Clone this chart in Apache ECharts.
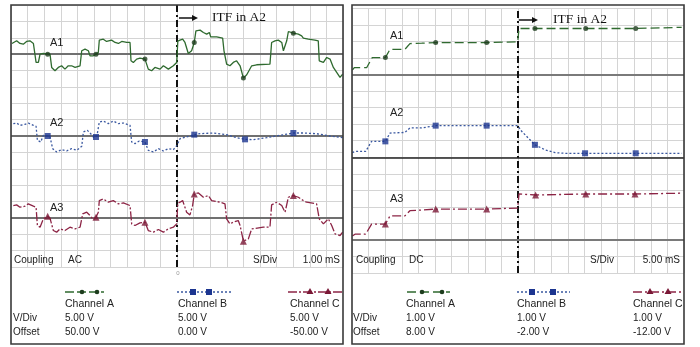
<!DOCTYPE html>
<html>
<head>
<meta charset="utf-8">
<script src="https://cdn.jsdelivr.net/npm/echarts@6/dist/echarts.min.js"></script>
<style>
  html, body { margin: 0; background: #fff; }
  #main { width: 700px; height: 347px; }
</style>
</head>
<body>
<div id="main"></div>
<script>
// Left scope: AC coupling, 1 ms/div, 5 V/div. Points are [time ms, volts from the channel's zero line]
const acA1 = [[0.06,3.25],[0.34,4.07],[0.54,3.25],[0.74,3.05],[0.94,3.86],[1.14,4.07],[1.35,3.25],[1.45,3.05],[1.51,-2.54],[1.65,-2.54],[1.75,0],[1.95,0.2],[2.21,0],[2.35,0],[2.45,-4.07],[2.65,-5.08],[2.85,-4.07],[3.05,-3.56],[3.25,-4.57],[3.45,-3.56],[3.65,-3.56],[3.86,-4.07],[4.16,-3.56],[4.26,1.02],[4.46,1.52],[4.66,1.02],[4.76,-0.51],[4.96,-0.51],[5.12,0],[5.26,0.51],[5.32,4.27],[5.56,4.57],[5.76,3.86],[6.06,4.27],[6.27,3.56],[6.47,3.25],[6.67,3.86],[6.97,3.56],[7.17,3.56],[7.23,-2.03],[7.37,-2.54],[7.57,-1.52],[7.77,-1.22],[8.07,-1.52],[8.27,-4.57],[8.47,-5.08],[8.67,-4.07],[8.98,-4.57],[9.18,-3.56],[9.48,-4.57],[9.78,-3.56],[9.98,-2.54],[10.05,4.0],[10.18,4.27],[10.34,4.57],[10.48,3.56],[10.68,0.2],[10.88,1.02],[11.04,3.56],[11.14,7.11],[11.39,7.32],[11.59,6.61],[11.79,6.1],[11.95,6.61],[12.03,5.28],[12.39,5.28],[12.75,4.88],[12.83,1.02],[12.99,-3.05],[13.19,-3.56],[13.39,-2.54],[13.59,-2.03],[13.8,-3.56],[14.0,-7.32],[14.2,-6.3],[14.5,-3.56],[14.8,-3.25],[15.6,-3.05],[15.7,3.56],[15.9,4.07],[16.1,4.27],[16.31,3.56],[16.41,1.02],[16.61,4.07],[16.71,6.91],[17.01,6.4],[17.31,6.1],[17.51,5.59],[17.61,4.88],[17.91,4.57],[18.31,4.27],[18.51,4.07],[18.57,-2.03],[18.82,-2.54],[19.02,-1.02],[19.22,-1.52],[19.42,-4.07],[19.62,-5.59],[19.82,-7.11],[19.98,-6.1]];
const acA1Marks = [[2.21,0],[5.12,0],[8.07,-1.52],[11.04,3.56],[14.0,-7.32],[17.01,6.4]];

const acA2 = [[0.14,3.76],[0.34,3.96],[0.54,3.25],[0.84,3.56],[1.04,3.96],[1.35,3.25],[1.51,2.95],[1.59,-1.32],[1.79,-1.83],[1.95,0.2],[2.21,0],[2.35,-0.3],[2.51,-3.86],[2.75,-4.88],[3.05,-4.17],[3.35,-4.57],[3.65,-3.86],[3.96,-4.37],[4.26,-3.15],[4.36,1.22],[4.6,1.73],[4.8,0.71],[4.96,-0.3],[5.12,-0.3],[5.2,0.71],[5.32,4.27],[5.56,4.57],[5.86,3.76],[6.16,4.57],[6.47,3.76],[6.77,3.96],[7.17,3.25],[7.27,-1.83],[7.47,-2.34],[7.73,-1.52],[8.07,-1.83],[8.27,-4.37],[8.57,-4.88],[8.88,-3.86],[9.18,-4.57],[9.48,-3.86],[9.78,-4.17],[10.0,-2.85],[10.18,-0.81],[10.58,-0.3],[11.04,0.41],[11.39,0.71],[12.19,0.91],[12.99,0.41],[13.59,-0.51],[14.1,-1.02],[14.6,-1.12],[15.4,-0.51],[16.2,0.2],[17.01,0.91],[17.61,0.91],[18.41,0.71],[19.22,0],[19.98,-0.51]];
const acA2Marks = [[2.21,0],[5.12,-0.3],[8.07,-1.83],[11.04,0.41],[14.1,-1.02],[17.01,0.91]];

const acA3 = [[0.14,3.76],[0.34,3.96],[0.54,3.25],[0.84,3.56],[1.04,4.27],[1.35,3.56],[1.51,3.25],[1.59,-2.34],[1.75,-2.85],[1.95,-0.3],[2.21,0.51],[2.35,-0.1],[2.55,-3.86],[2.75,-4.37],[2.95,-3.35],[3.25,-3.86],[3.55,-2.85],[3.86,-3.35],[4.16,-2.85],[4.32,1.22],[4.56,1.73],[4.76,0.71],[4.96,-0.51],[5.12,0.2],[5.26,1.73],[5.32,5.28],[5.56,5.79],[5.86,4.78],[6.16,5.28],[6.47,4.27],[6.77,4.57],[7.17,3.76],[7.27,-1.83],[7.47,-2.34],[7.77,-1.52],[8.07,-1.32],[8.27,-3.86],[8.57,-4.37],[8.88,-3.56],[9.18,-4.37],[9.48,-3.35],[9.78,-2.85],[9.98,-1.83],[10.05,4.5],[10.18,4.78],[10.34,5.28],[10.58,1.73],[10.78,0.91],[10.94,3.76],[11.04,7.32],[11.29,7.62],[11.59,6.3],[11.89,6.81],[12.09,5.28],[12.59,4.78],[12.89,4.27],[12.99,-0.3],[13.19,-1.83],[13.39,-1.32],[13.69,-0.81],[13.8,-2.34],[14.0,-7.11],[14.3,-6.4],[14.5,-3.35],[15.2,-2.85],[15.6,-2.85],[15.7,3.96],[16.0,4.78],[16.31,3.76],[16.51,1.73],[16.71,6.3],[17.01,6.81],[17.31,6.3],[17.61,5.28],[17.81,4.78],[18.41,4.27],[18.57,-0.3],[18.82,-1.83],[19.12,-0.3],[19.32,-2.34],[19.52,-4.88],[19.82,-5.39],[19.98,-4.37]];
const acA3Marks = [[2.21,0.51],[5.12,0.2],[8.07,-1.32],[11.04,7.32],[14.0,-7.11],[17.01,6.81]];

// Right scope: DC coupling, 5 ms/div, 1 V/div
const dcA1 = [[0.1,0.26],[0.7,0.41],[4.4,0.41],[6.1,1.02],[8.95,1.02],[10.05,1.02],[11.45,1.52],[15.95,1.52],[17.45,1.87],[21.0,1.89],[25.2,1.93],[40.55,1.93],[49.9,1.97],[50.3,2.78],[55.1,2.78],[70.4,2.78],[85.45,2.78],[99.3,2.85]];
const dcA1Marks = [[10.05,1.02],[25.2,1.93],[40.55,1.93],[55.1,2.78],[70.4,2.78],[85.45,2.78]];

const dcA2 = [[0.1,0.28],[0.9,0.35],[4.1,0.35],[5.9,0.96],[8.95,0.96],[10.05,0.96],[11.45,1.46],[15.95,1.5],[17.45,1.77],[21.0,1.77],[25.2,1.91],[40.55,1.91],[49.9,1.91],[51.1,1.57],[53.1,1.16],[55.1,0.75],[58.15,0.45],[61.15,0.28],[64.15,0.24],[70.2,0.24],[85.45,0.24],[99.3,0.24]];
const dcA2Marks = [[10.05,0.96],[25.2,1.91],[40.55,1.91],[55.1,0.75],[70.2,0.24],[85.45,0.24]];

const dcA3 = [[0.1,0.24],[0.9,0.35],[4.1,0.35],[5.9,0.96],[8.95,0.96],[10.05,0.96],[11.45,1.46],[15.95,1.46],[17.45,1.77],[21.0,1.81],[25.2,1.87],[40.55,1.87],[49.9,1.93],[50.3,2.78],[55.3,2.72],[70.4,2.78],[85.25,2.78],[99.3,2.83]];
const dcA3Marks = [[10.05,0.96],[25.2,1.87],[40.55,1.87],[55.3,2.72],[70.4,2.78],[85.25,2.78]];

const channelNames = ['Channel A', 'Channel B', 'Channel C'];
const acVDivText = ['5.00 V', '5.00 V', '5.00 V'];
const acOffsetText = ['50.00 V', '0.00 V', '-50.00 V'];
const dcVDivText = ['1.00 V', '1.00 V', '1.00 V'];
const dcOffsetText = ['8.00 V', '-2.00 V', '-12.00 V'];

const chart = echarts.init(document.getElementById('main'));

const lineColor = ['#2f6a2f', '#3a58a0', '#8c2445'];
const markColor = ['#1e3d1e', '#1c3590', '#7a1836'];
const markSymbol = ['circle', 'rect', 'triangle'];
const markSize = [5, 6, 7];

const panels = [
  { sdiv: 1, vdiv: 5, base: [13, 8, 3], data: [acA1, acA2, acA3], marks: [acA1Marks, acA2Marks, acA3Marks],
    dash: ['solid', [2, 2], [9, 2, 2, 2]], baseColor: ['#707070', '#707070', '#707070'] },
  { sdiv: 5, vdiv: 1, base: [12, 7, 2], data: [dcA1, dcA2, dcA3], marks: [dcA1Marks, dcA2Marks, dcA3Marks],
    dash: [[9, 4], [2, 2], [9, 3, 2, 3]], baseColor: ['#7a7a7a', '#222', '#7a7a7a'] }
];

const series = [];
panels.forEach((p, g) => {
  const toDiv = (b) => (pt) => [pt[0] / p.sdiv, b + pt[1] / p.vdiv];
  for (let c = 0; c < 3; c++) {
    const conv = toDiv(p.base[c]);
    const mlData = [{ yAxis: p.base[c], lineStyle: { color: p.baseColor[c], width: c === 1 && g === 1 ? 1.5 : 2, type: 'solid' } }];
    if (c === 0) {
      mlData.push({ xAxis: 10, lineStyle: { color: '#111', width: 2, type: [7, 3, 2, 3] } });
    }
    series.push({
      type: 'line', xAxisIndex: g, yAxisIndex: g,
      data: p.data[c].map(conv),
      showSymbol: false, symbol: 'none', z: 3,
      lineStyle: { color: lineColor[c], width: 1.3, type: p.dash[c] },
      markLine: { silent: true, symbol: 'none', label: { show: false }, z: 2, data: mlData }
    });
    series.push({
      type: 'scatter', xAxisIndex: g, yAxisIndex: g, z: 4,
      data: p.marks[c].map(conv),
      symbol: markSymbol[c], symbolSize: markSize[c],
      itemStyle: { color: markColor[c] }
    });
  }
});

const axisCommon = {
  type: 'value', interval: 1, axisLine: { show: false }, axisTick: { show: false }, axisLabel: { show: false },
  splitLine: { show: true, lineStyle: { color: '#d4d4d4', width: 1 } }
};

const graphic = [];
function txt(x, y, text, size, extra) {
  graphic.push({ type: 'text', x: x, y: y, z: 10, silent: true,
    style: Object.assign({ text: text, fontSize: size, fontFamily: 'Liberation Sans, Arial, sans-serif', fill: '#222', textVerticalAlign: 'middle' }, extra || {}) });
}
function sample(x0, x1, y, c, dash, xs) {
  graphic.push({ type: 'line', z: 10, silent: true, shape: { x1: x0, y1: y, x2: x1, y2: y },
    style: { stroke: lineColor[c], lineWidth: 1.4, lineDash: dash === 'solid' ? null : dash } });
  xs.forEach((x) => {
    let shape, type;
    if (c === 0) { type = 'circle'; shape = { cx: x, cy: y, r: 2.3 }; }
    else if (c === 1) { type = 'rect'; shape = { x: x - 3, y: y - 3, width: 6, height: 6 }; }
    else { type = 'polygon'; shape = { points: [[x, y - 4], [x - 3.5, y + 2], [x + 3.5, y + 2]] }; }
    graphic.push({ type: type, z: 11, silent: true, shape: shape, style: { fill: markColor[c] } });
  });
}

// panel frames
[[11, 5], [352, 5]].forEach(([x, y]) => {
  graphic.push({ type: 'rect', z: 12, silent: true, shape: { x: x, y: y, width: 332, height: 339 },
    style: { fill: 'none', stroke: '#3a3a3a', lineWidth: 1.6 } });
});

// channel labels on the traces
txt(50, 43, 'A1', 11); txt(50, 123, 'A2', 11); txt(50, 208, 'A3', 11);
txt(390, 36, 'A1', 11); txt(390, 113, 'A2', 11); txt(390, 199, 'A3', 11);

// ITF arrows
[[179, 196, 18, 212], [519, 536, 20, 553]].forEach(([a, b, y, tx]) => {
  graphic.push({ type: 'line', z: 10, silent: true, shape: { x1: a, y1: y, x2: b, y2: y }, style: { stroke: '#111', lineWidth: 1.5 } });
  graphic.push({ type: 'polygon', z: 10, silent: true, shape: { points: [[b + 2, y], [b - 4, y - 3], [b - 4, y + 3]] }, style: { fill: '#111' } });
  txt(tx, y - 1, 'ITF in A2', 13.5, { fontFamily: 'Liberation Serif, Times New Roman, serif', fill: '#111' });
});

// coupling row
txt(14, 260, 'Coupling', 10); txt(68, 260, 'AC', 10); txt(253, 260, 'S/Div', 10); txt(340, 260, '1.00 mS', 10, { textAlign: 'right' });
txt(356, 260, 'Coupling', 10); txt(409, 260, 'DC', 10); txt(590, 260, 'S/Div', 10); txt(680, 260, '5.00 mS', 10, { textAlign: 'right' });
txt(178, 273, '0', 6, { fill: '#999', textAlign: 'center' });

// channel tables
const leftCols = [65, 178, 290];
const rightCols = [406, 517, 633];
const leftSamples = [[65, 104, [82, 97]], [177, 233, [193, 209]], [288, 342, [310, 328]]];
const rightSamples = [[407, 450, [422, 442]], [517, 570, [532, 553]], [633, 683, [650, 668]]];
for (let c = 0; c < 3; c++) {
  sample(leftSamples[c][0], leftSamples[c][1], 292, c, panels[0].dash[c] === 'solid' ? [9, 3] : panels[0].dash[c], leftSamples[c][2]);
  sample(rightSamples[c][0], rightSamples[c][1], 292, c, panels[1].dash[c], rightSamples[c][2]);
  txt(leftCols[c], 304, channelNames[c], 10.5);
  txt(rightCols[c], 304, channelNames[c], 10.5);
  txt(leftCols[c], 318, acVDivText[c], 10);
  txt(rightCols[c], 318, dcVDivText[c], 10);
  txt(leftCols[c], 332, acOffsetText[c], 10);
  txt(rightCols[c], 332, dcOffsetText[c], 10);
}
txt(13, 318, 'V/Div', 10); txt(13, 332, 'Offset', 10);
txt(353, 318, 'V/Div', 10); txt(353, 332, 'Offset', 10);

chart.setOption({
  animation: false,
  backgroundColor: '#fff',
  grid: [
    { left: 11, top: 5, width: 332, height: 262 },
    { left: 352, top: 8.3, width: 332, height: 264.8 }
  ],
  xAxis: [
    Object.assign({ gridIndex: 0, min: 0, max: 20 }, axisCommon),
    Object.assign({ gridIndex: 1, min: 0, max: 20 }, axisCommon)
  ],
  yAxis: [
    Object.assign({ gridIndex: 0, min: 0, max: 16 }, axisCommon),
    Object.assign({ gridIndex: 1, min: 0, max: 16 }, axisCommon)
  ],
  series: series,
  graphic: graphic
});
</script>
</body>
</html>
